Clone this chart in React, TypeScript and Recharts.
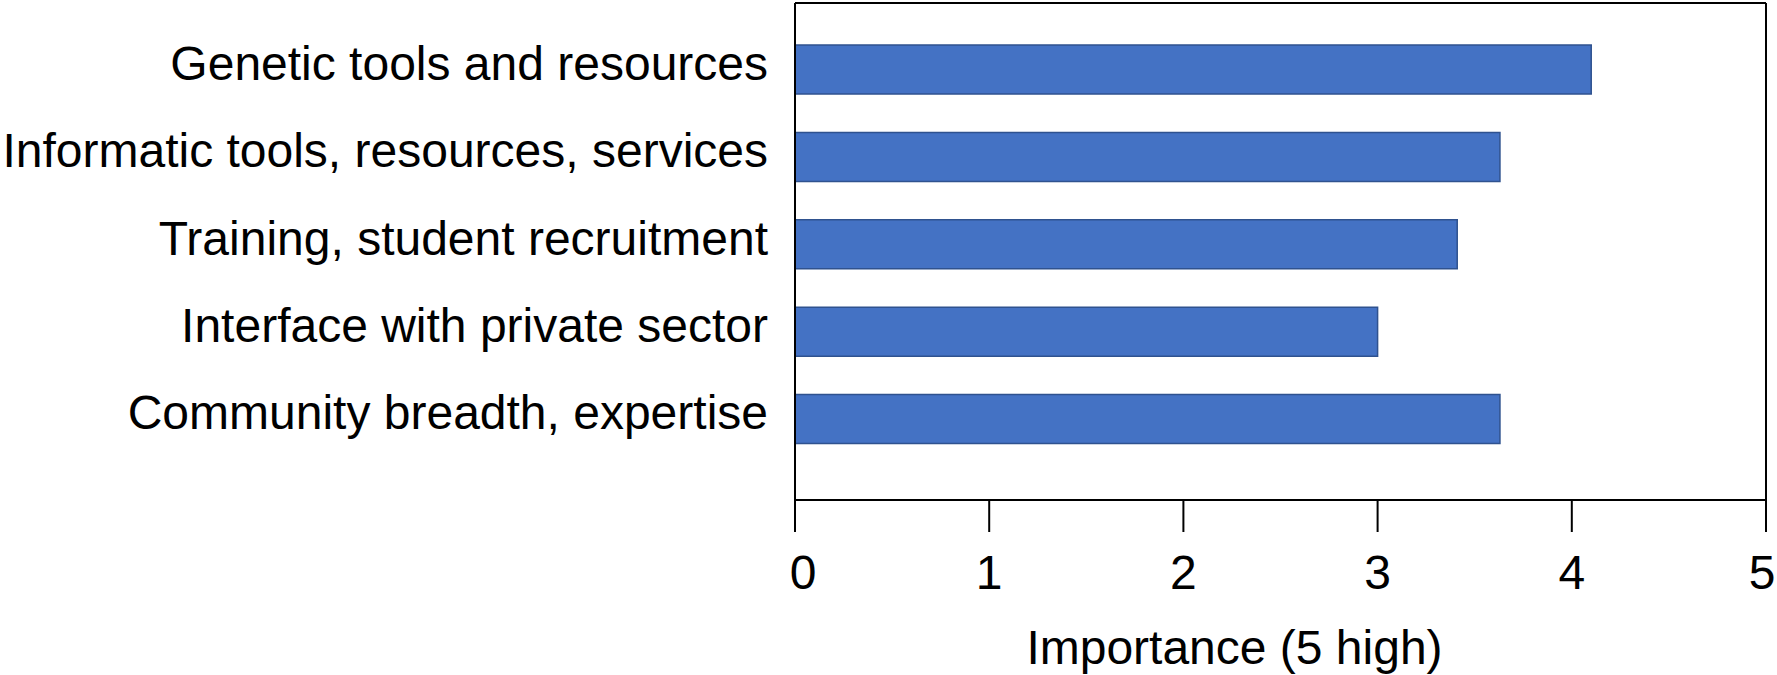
import React from 'react';
import { BarChart, Bar, XAxis, YAxis, ReferenceLine } from 'recharts';

const categories = [
  'Genetic tools and resources',
  'Informatic tools, resources, services',
  'Training, student recruitment',
  'Interface with private sector',
  'Community breadth, expertise',
];
const importance = [4.1, 3.63, 3.41, 3.0, 3.63];
const xTicks = [0, 1, 2, 3, 4, 5];
const xTitle = 'Importance (5 high)';

const data = categories.map((c, i) => ({ name: c, value: importance[i] }));

const FONT = '"Liberation Sans", Arial, Helvetica, sans-serif';

const XTick = (props: any) => {
  const { x, y, payload, index } = props;
  let shift = 0;
  if (index === 0) shift = 8;
  if (index === xTicks.length - 1) shift = -4;
  return (
    <text x={x + shift} y={y + 34} textAnchor="middle" fontSize={48} fontFamily={FONT} fill="#000">
      {payload.value}
    </text>
  );
};

const YTick = (props: any) => {
  const { x, y, payload } = props;
  return (
    <text x={x} y={y + 10} textAnchor="end" fontSize={48} fontFamily={FONT} fill="#000">
      {payload.value}
    </text>
  );
};

export default function App() {
  return (
    <div style={{ position: 'absolute', left: 0, top: 0, background: '#fff' }}>
      <BarChart
        width={1777}
        height={675}
        data={data}
        layout="vertical"
        margin={{ top: 0, right: 11, bottom: 0, left: 0 }}
      >
        <XAxis
          type="number"
          domain={[0, 5]}
          ticks={xTicks}
          interval={0}
          height={175}
          tickSize={32}
          tickMargin={23}
          axisLine={{ stroke: '#000', strokeWidth: 2 }}
          tickLine={{ stroke: '#000', strokeWidth: 2 }}
          tick={<XTick />}
          label={{
            value: xTitle,
            position: 'insideBottom',
            offset: 11,
            dx: -46,
            fontSize: 48,
            fill: '#000',
            fontFamily: FONT,
          }}
        />
        <XAxis
          xAxisId="top"
          orientation="top"
          type="number"
          domain={[0, 5]}
          height={3}
          tick={false}
          tickLine={false}
          axisLine={{ stroke: '#000', strokeWidth: 2 }}
        />
        <YAxis
          type="category"
          dataKey="name"
          width={795}
          tickSize={0}
          tickMargin={27}
          tickLine={false}
          interval={0}
          padding={{ top: 23, bottom: 37 }}
          axisLine={{ stroke: '#000', strokeWidth: 2 }}
          tick={<YTick />}
        />
        <ReferenceLine x={5} stroke="#000" strokeWidth={2} />
        <Bar
          dataKey="value"
          fill="#4472C4"
          stroke="#2F528F"
          strokeWidth={1.5}
          barSize={49}
          isAnimationActive={false}
        />
      </BarChart>
    </div>
  );
}
